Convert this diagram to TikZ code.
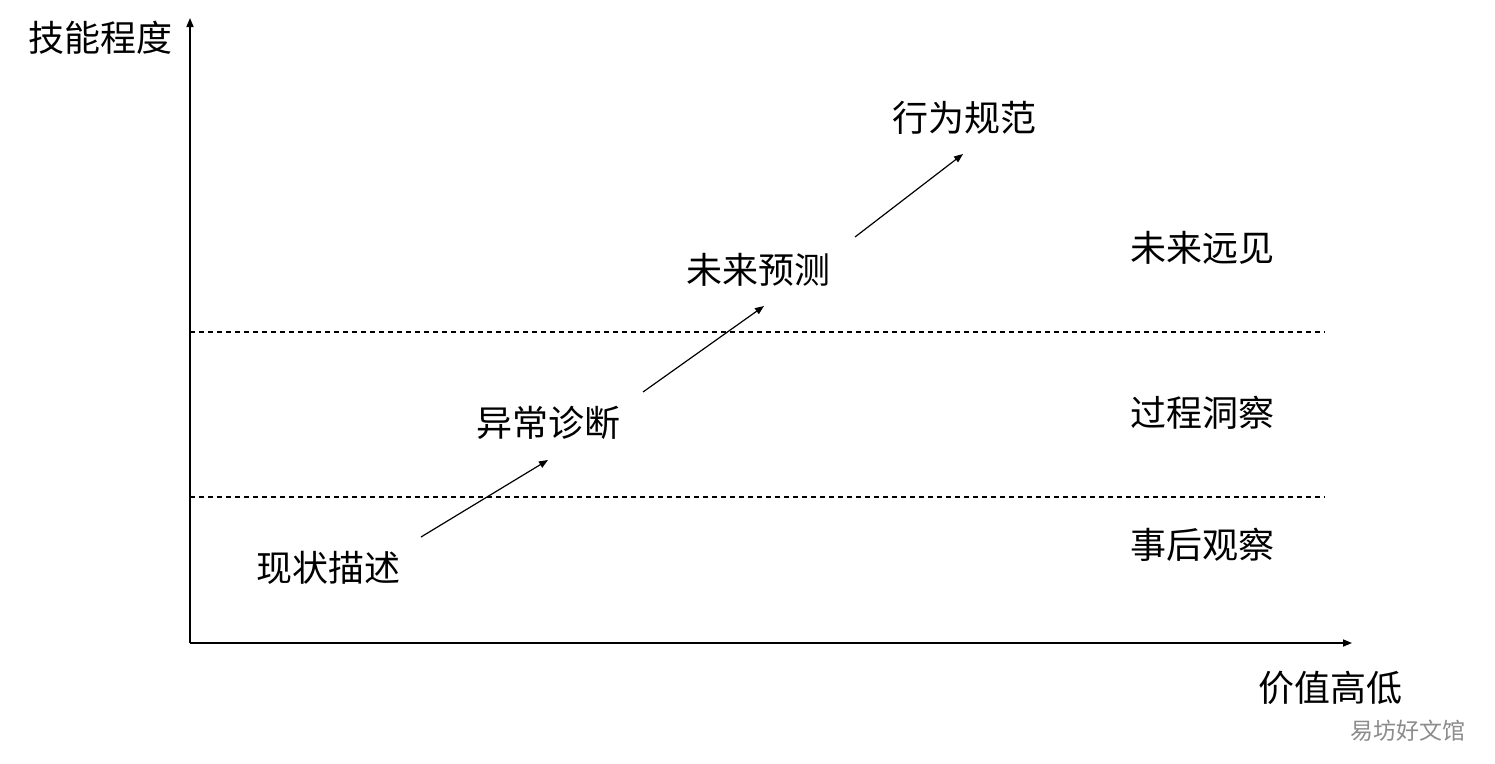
\documentclass[tikz,border=0pt]{standalone}
\usepackage{fontspec}
\setmainfont{Noto Sans CJK SC}
\usetikzlibrary{arrows.meta}
\tikzset{lbl/.style={font=\fontsize{36}{40}\selectfont, inner sep=0pt},
ax/.style={line width=1.6pt,-{Triangle[length=9pt,width=7pt]}},
arr/.style={line width=1.2pt,-{Triangle[length=9pt,width=7pt]}},
dl/.style={line width=1.3pt,dash pattern=on 5pt off 4pt}}
\begin{document}
\begin{tikzpicture}[x=1pt,y=-1pt]
\useasboundingbox[fill=white] (0,0) rectangle (1495,763);
\coordinate (o) at (190,643);
\coordinate (yt) at (190,18);
\coordinate (xt) at (1352,643);
\draw[ax] (o) -- (yt);
\draw[ax] (o) -- (xt);
\coordinate (d1a) at (190,332); \coordinate (d1b) at (1325,332);
\coordinate (d2a) at (190,497); \coordinate (d2b) at (1325,497);
\draw[dl] (d1a) -- (d1b);
\draw[dl] (d2a) -- (d2b);
\node[lbl] (ylab) at (100,38) {技能程度};
\node[lbl] (xlab) at (1330,688) {价值高低};
\node[lbl] (s1) at (328,568) {现状描述};
\node[lbl] (s2) at (548,423) {异常诊断};
\node[lbl] (s3) at (758,270) {未来预测};
\node[lbl] (s4) at (964,118) {行为规范};
\node[lbl] (r1) at (1202,248) {未来远见};
\node[lbl] (r2) at (1202,413) {过程洞察};
\node[lbl] (r3) at (1202,545) {事后观察};
\coordinate (a1s) at (421,537); \coordinate (a1e) at (548,460);
\coordinate (a2s) at (643,392); \coordinate (a2e) at (764,306);
\coordinate (a3s) at (855,237); \coordinate (a3e) at (963,154);
\draw[arr] (a1s) -- (a1e);
\draw[arr] (a2s) -- (a2e);
\draw[arr] (a3s) -- (a3e);
\node[font=\fontsize{23}{26}\selectfont, text=black!45, inner sep=0pt] (wm) at (1408,731) {易坊好文馆};
\end{tikzpicture}
\end{document}
